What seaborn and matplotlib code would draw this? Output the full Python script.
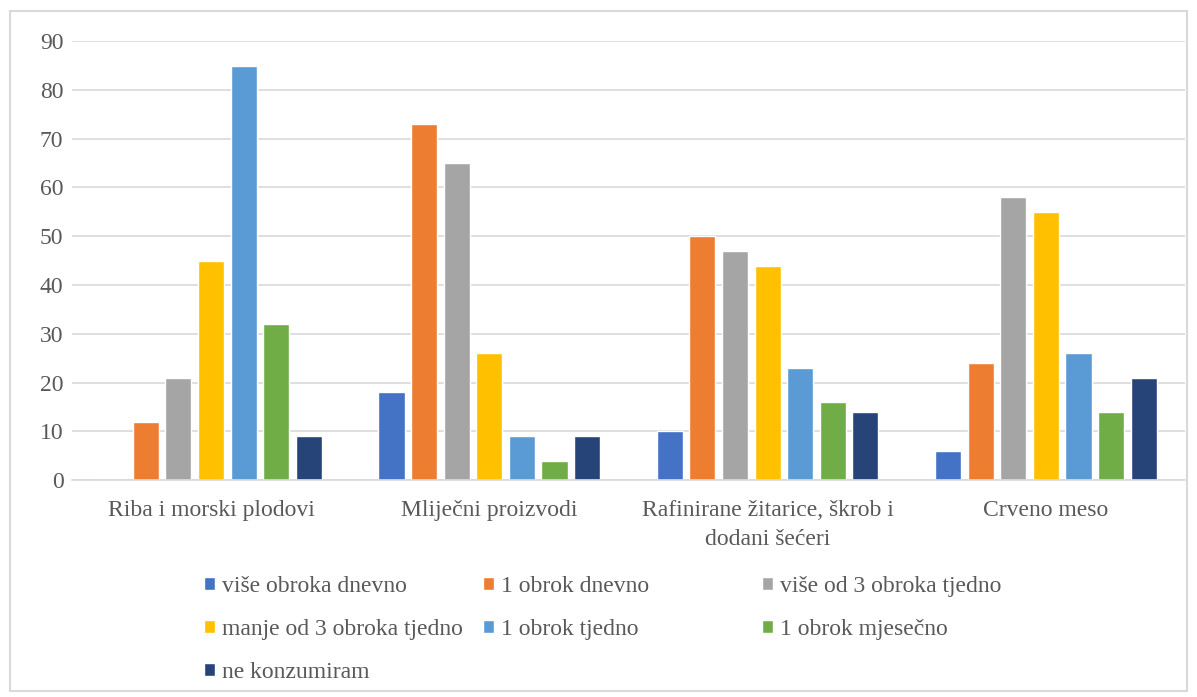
import pandas as pd
import matplotlib.pyplot as plt
import seaborn as sns
from matplotlib.patches import Rectangle

# Data
categories = ['Riba i morski plodovi', 'Mliječni proizvodi',
              'Rafinirane žitarice, škrob i\ndodani šećeri', 'Crveno meso']
series = ['više obroka dnevno', '1 obrok dnevno', 'više od 3 obroka tjedno',
          'manje od 3 obroka tjedno', '1 obrok tjedno', '1 obrok mjesečno',
          'ne konzumiram']
vise_dnevno = [0, 18, 10, 6]
jedan_dnevno = [12, 73, 50, 24]
vise_od_3_tjedno = [21, 65, 47, 58]
manje_od_3_tjedno = [45, 26, 44, 55]
jedan_tjedno = [85, 9, 23, 26]
jedan_mjesecno = [32, 4, 16, 14]
ne_konzumiram = [9, 9, 14, 21]
colors = ['#4472C4', '#ED7D31', '#A5A5A5', '#FFC000', '#5B9BD5', '#70AD47', '#264478']

values = [vise_dnevno, jedan_dnevno, vise_od_3_tjedno, manje_od_3_tjedno,
          jedan_tjedno, jedan_mjesecno, ne_konzumiram]
rows = []
for s, vals in zip(series, values):
    for c, v in zip(categories, vals):
        rows.append({'kategorija': c, 'serija': s, 'broj': v})
df = pd.DataFrame(rows)

sns.set_style('white')
plt.rcParams['font.family'] = ['Liberation Serif', 'DejaVu Serif']
text_col = '#595959'
grid_col = '#D9D9D9'
fs = 17

fig = plt.figure(figsize=(11.97, 6.97), dpi=100)
ax = fig.add_axes([0.060, 0.311, 0.930, 0.630])

sns.barplot(data=df, x='kategorija', y='broj', hue='serija', order=categories,
            hue_order=series, palette=colors, width=0.82, gap=0.2,
            saturation=1, ax=ax, legend=True)

ax.set_ylim(0, 90)
ax.set_yticks(range(0, 91, 10))
ax.set_xlim(-0.5, 3.5)
ax.yaxis.grid(True, color=grid_col, linewidth=1.2)
ax.set_axisbelow(True)
for side in ['top', 'right', 'left']:
    ax.spines[side].set_visible(False)
ax.spines['bottom'].set_color(grid_col)
ax.spines['bottom'].set_linewidth(1.2)
ax.tick_params(axis='both', length=0, labelsize=fs, colors=text_col)
ax.tick_params(axis='x', pad=14)
ax.tick_params(axis='y', pad=6)
ax.set_xlabel('')
ax.set_ylabel('')
for lbl in ax.get_xticklabels():
    lbl.set_linespacing(1.5)

handles, labels = ax.get_legend_handles_labels()
ax.get_legend().remove()

# legend laid out as three equal-width columns, row-major like the original
col_x = [204, 483, 762]
for ci, x in enumerate(col_x):
    idx = list(range(ci, len(series), 3))
    fig.legend([handles[i] for i in idx], [labels[i] for i in idx],
               loc='upper left', bbox_to_anchor=(x / 1197, 1 - 576 / 697),
               frameon=False, fontsize=fs, labelcolor=text_col,
               handlelength=0.45, handleheight=0.45, handletextpad=0.3,
               labelspacing=0.93, borderpad=0, borderaxespad=0)

fig.patches.append(Rectangle((10 / 1197, 6 / 697), 1177 / 1197, 680 / 697,
                             transform=fig.transFigure, fill=False,
                             edgecolor=grid_col, linewidth=1.5))

fig.savefig('out.png', dpi=100, facecolor='white')
